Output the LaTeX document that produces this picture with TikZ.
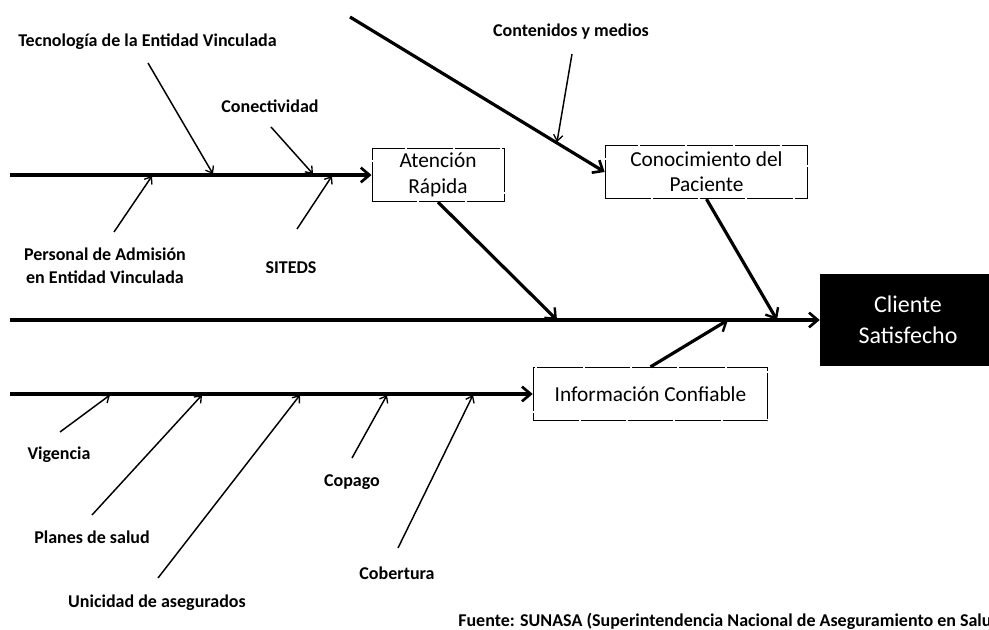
\documentclass[tikz,border=0pt]{standalone}
\usepackage{fontspec}
\setmainfont{Carlito}
\usetikzlibrary{arrows.meta}

\begin{document}
\begin{tikzpicture}[x=0.75pt,y=-0.75pt,
  spine/.style={line width=2.4pt,-{Straight Barb[length=6.5pt,width=11pt,line width=2pt]}},
  branch/.style={line width=2.4pt,-{Straight Barb[length=6.5pt,width=11pt,line width=1.8pt]}},
  cause/.style={line width=1.1pt,-{Straight Barb[length=4.5pt,width=7pt,line width=1pt]}},
  effectbox/.style={draw,line width=0.7pt,dash pattern=on 34pt off 1.5pt,
    font=\fontsize{16}{19}\selectfont,align=center,inner sep=0pt},
  lbl/.style={font=\fontsize{13.5}{17}\selectfont\bfseries,align=center,inner sep=0pt}]

\clip (0,0) rectangle (989,630);
\fill[white] (0,0) rectangle (989,630);

% effect boxes
\node[effectbox,minimum width=99pt,minimum height=40pt] (aten) at (438,175) {Atención\\Rápida};
\node[effectbox,minimum width=152pt,minimum height=40pt] (conoc) at (706.5,172) {Conocimiento del\\Paciente};
\node[effectbox,minimum width=176pt,minimum height=40pt] (info) at (650.5,394) {Información Confiable};
\node[fill=black,text=white,minimum width=132pt,minimum height=69pt,inner sep=0pt,
      align=center,font=\fontsize{18}{23}\selectfont] (cliente) at (908,320) {Cliente\\Satisfecho};

% cause labels
\node[lbl] (tec) at (147.5,42) {Tecnología de la Entidad Vinculada};
\node[lbl] (conec) at (270,106) {Conectividad};
\node[lbl] (pers) at (105,266) {Personal de Admisión\\en Entidad Vinculada};
\node[lbl] (siteds) at (291,268) {SITEDS};
\node[lbl] (conten) at (571,32) {Contenidos y medios};
\node[lbl] (vig) at (59,455) {Vigencia};
\node[lbl] (planes) at (92,537) {Planes de salud};
\node[lbl] (unic) at (157,603) {Unicidad de asegurados};
\node[lbl] (copago) at (352,482) {Copago};
\node[lbl] (cobert) at (397,573) {Cobertura};
\node[anchor=west,inner sep=0pt,font=\fontsize{13.5}{16}\selectfont\bfseries] (fuente) at (458,621)
  {Fuente: SUNASA (Superintendencia Nacional de Aseguramiento en Salud};

% spine start points and arrow end points
\coordinate (t0) at (10,175);
\coordinate (m0) at (10,320);
\coordinate (l0) at (10,394);
\coordinate (d0) at (350,17);
\coordinate (ma) at (557,320);
\coordinate (mc) at (777,320);
\coordinate (mi) at (728,320);

% spines
\draw[spine] (t0) -- (aten.west);
\draw[spine] (m0) -- (cliente.west);
\draw[spine] (l0) -- (info.west);
\draw[spine] (d0) -- (conoc.west);

% branches into the main spine
\draw[branch] (aten.south) -- (ma);
\draw[branch] (conoc.south) -- (mc);
\draw[branch] (info.north) -- (mi);

% causes on the upper spine
\coordinate (tecA) at (148,63);   \coordinate (tecB) at (213,174);
\coordinate (conA) at (271,127);  \coordinate (conB) at (313,174);
\coordinate (perA) at (114,232);  \coordinate (perB) at (152,176);
\coordinate (sitA) at (297,229);  \coordinate (sitB) at (332,176);
\draw[cause] (tecA) -- (tecB);
\draw[cause] (conA) -- (conB);
\draw[cause] (perA) -- (perB);
\draw[cause] (sitA) -- (sitB);

% cause on the diagonal
\coordinate (ctnA) at (572,54);   \coordinate (ctnB) at (557,142);
\draw[cause] (ctnA) -- (ctnB);

% causes on the lower spine
\coordinate (vigA) at (60,432);   \coordinate (vigB) at (110,395);
\coordinate (plaA) at (92,515);   \coordinate (plaB) at (202,395);
\coordinate (uniA) at (158,578);  \coordinate (uniB) at (300,395);
\coordinate (copA) at (352,458);  \coordinate (copB) at (387,395);
\coordinate (cobA) at (398,548);  \coordinate (cobB) at (473,395);
\draw[cause] (vigA) -- (vigB);
\draw[cause] (plaA) -- (plaB);
\draw[cause] (uniA) -- (uniB);
\draw[cause] (copA) -- (copB);
\draw[cause] (cobA) -- (cobB);
\end{tikzpicture}
\end{document}
